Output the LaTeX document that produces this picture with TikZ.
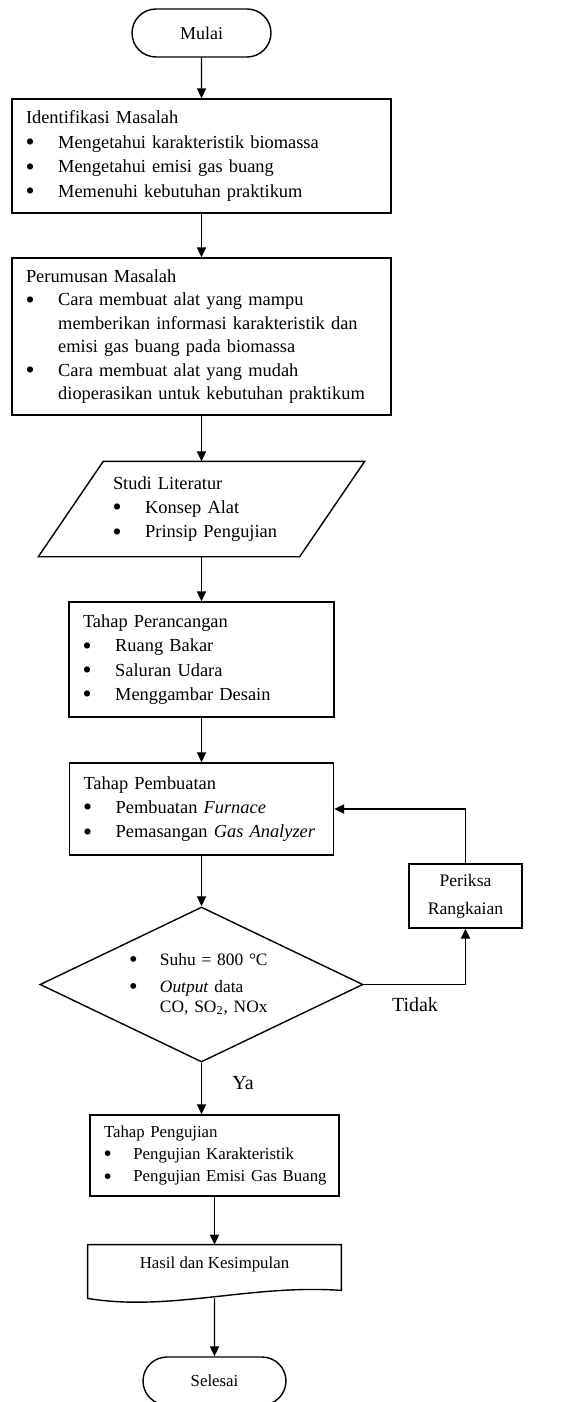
\documentclass[tikz,border=0pt]{standalone}
\usepackage{fontspec}
\usepackage{graphicx}
\setmainfont{Liberation Serif}
\usetikzlibrary{arrows.meta,shapes.geometric,shapes.misc}
\newcommand{\bul}{\hspace*{-0.02em}\makebox[1.77em][l]{\raisebox{-0.13em}{\scalebox{1.4}{\textbullet}}}}
\newcommand{\lanjut}{\hspace*{1.75em}}
\tikzset{
  kotak/.style={draw,rectangle,line width=0.7pt,align=left,inner xsep=7pt,inner ysep=0pt,font=\fontsize{9.2}{12.2}\selectfont},
  terminal/.style={draw,rounded rectangle,line width=0.7pt,minimum height=24pt,inner sep=0pt},
  panah/.style={-{Triangle[length=5pt,width=4.6pt]},line width=0.65pt},
}
\begin{document}
\begin{tikzpicture}[x=0.5pt,y=-0.5pt]
\useasboundingbox (0,0) rectangle (565,1402);
% kolom utama
\node[terminal,minimum width=69.5pt,font=\fontsize{9}{11}\selectfont] (mulai) at (201.5,33) {Mulai};
\node[kotak,text width=175.5pt,minimum height=57pt] (ident) at (201.5,156) {Identifikasi Masalah\\
\bul Mengetahui karakteristik biomassa\\
\bul Mengetahui emisi gas buang\\
\bul Memenuhi kebutuhan praktikum};
\node[kotak,text width=175.5pt,minimum height=78.5pt,font=\fontsize{9.2}{11.7}\selectfont] (rumus) at (201.5,336.5) {Perumusan Masalah\\
\bul Cara membuat alat yang mampu\\
\lanjut \mbox{memberikan informasi karakteristik dan}\\
\lanjut emisi gas buang pada biomassa\\
\bul Cara membuat alat yang mudah\\
\lanjut \mbox{dioperasikan untuk kebutuhan praktikum}};
\node[kotak,draw=none,minimum width=130pt,minimum height=47pt,text width=88.5pt,inner xsep=20.75pt] (studi) at (201.5,509) {Studi Literatur\\
\bul Konsep Alat\\
\bul Prinsip Pengujian};
\draw[line width=0.7pt] ([xshift=-16.25pt]studi.south west) -- ([xshift=-16.25pt]studi.south east)
  -- ([xshift=16.25pt]studi.north east) -- ([xshift=16.25pt]studi.north west) -- cycle;
\node[kotak,text width=118.5pt,minimum height=57.5pt] (rancang) at (201.5,659.5) {Tahap Perancangan\\
\bul Ruang Bakar\\
\bul Saluran Udara\\
\bul Menggambar Desain};
\node[kotak,text width=118pt,minimum height=46pt] (buat) at (201.5,809) {Tahap Pembuatan\\
\bul Pembuatan \textit{Furnace}\\
\bul \mbox{Pemasangan \textit{Gas Analyzer}}};
\node[draw,diamond,aspect=2,line width=0.7pt,minimum width=161.5pt,minimum height=77.5pt,inner sep=0pt,text width=72pt,align=left,font=\fontsize{8.7}{13.5}\selectfont] (cek) at (201.5,984.5) {\bul Suhu = 800 °C\\
\bul \textit{Output} data\\[-3.5pt]
\lanjut \mbox{CO, SO\textsubscript{2}, NOx}};
\node[draw,rectangle,line width=0.7pt,minimum width=56.5pt,minimum height=32pt,align=center,font=\fontsize{8.8}{14}\selectfont] (periksa) at (465.5,896) {Periksa\\Rangkaian};
\node[kotak,text width=110.5pt,minimum height=40.5pt,font=\fontsize{8.4}{11.2}\selectfont] (uji) at (214.5,1155.5) {Tahap Pengujian\\
\bul Pengujian Karakteristik\\
\bul \mbox{Pengujian Emisi Gas Buang}};
\node[inner sep=0pt,minimum width=126.5pt,text height=11.75pt,text depth=14.75pt,font=\fontsize{8.4}{10}\selectfont] (hasil) at (214.5,1271.5) {Hasil dan Kesimpulan};
\draw[line width=0.7pt] (hasil.north west) -- (hasil.north east) -- ([yshift=4pt]hasil.south east)
  .. controls (250,1284) and (170,1312) .. (hasil.south west) -- cycle;
\node[terminal,minimum width=71.5pt,font=\fontsize{8.4}{10}\selectfont] (selesai) at (214.5,1381) {Selesai};
% label
\node[font=\fontsize{10}{12}\selectfont] (ya) at (243,1083) {Ya};
\node[font=\fontsize{10}{12}\selectfont] (tidak) at (415,1005) {Tidak};
% panah
\draw[panah] (mulai) -- (ident);
\draw[panah] (ident) -- (rumus);
\draw[panah] (rumus) -- (studi);
\draw[panah] (studi) -- (rancang);
\draw[panah] (rancang) -- (buat);
\draw[panah] (buat) -- (cek);
\draw[panah] (cek.south) -- (cek.south |- uji.north);
\draw[panah] (cek.east) -| (periksa.south);
\draw[panah] (periksa.north) |- (buat.east);
\draw[panah] (uji) -- (hasil);
\draw[panah] (hasil.south) -- (selesai);
\end{tikzpicture}
\end{document}
